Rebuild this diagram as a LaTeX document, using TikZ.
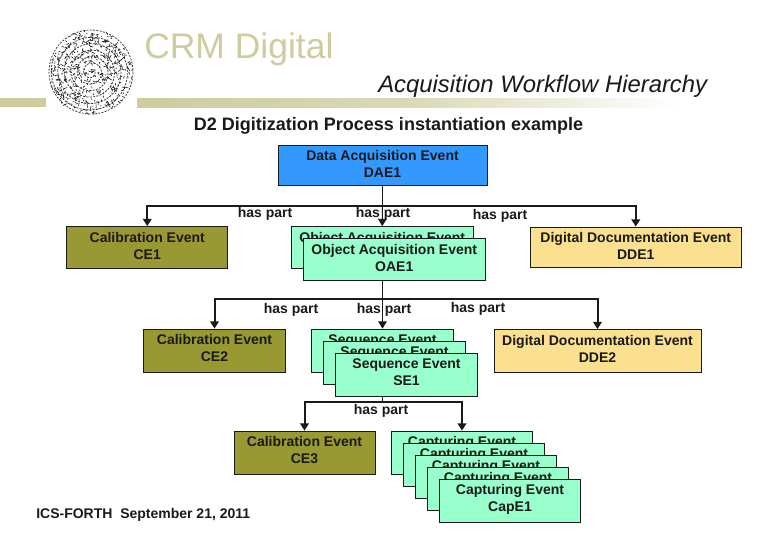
\documentclass[tikz,border=0pt]{standalone}
\usepackage{fontspec}
\setmainfont{Liberation Sans}
\usetikzlibrary{arrows.meta}
\definecolor{olivebox}{HTML}{999933}
\definecolor{mintbox}{HTML}{99FFCC}
\definecolor{sandbox}{HTML}{FBE08F}
\definecolor{bluebox}{HTML}{3399FF}
\definecolor{khaki}{HTML}{CCCC9E}
\definecolor{ink}{HTML}{1A1A1A}
\newcommand\evt[3]{\parbox[c][#2pt][t]{#1pt}{\centering\vspace{4.1pt}#3}}
\tikzset{
  evbox/.style={draw=ink,line width=0.6pt,inner sep=0pt,font=\fontsize{10.5}{12.75}\selectfont\bfseries,text=ink},
  thinline/.style={draw=ink,line width=0.75pt},
  thinarrow/.style={draw=ink,line width=0.75pt,-{Triangle[length=5.5pt,width=6.5pt]}},
  busline/.style={draw=ink,line width=1.5pt,-{Triangle[length=5.5pt,width=6.5pt]}},
  partlabel/.style={font=\fontsize{10.5}{12}\selectfont\bfseries,text=ink,inner sep=0pt},
}
\begin{document}
\begin{tikzpicture}[x=0.75pt,y=-0.75pt]
\useasboundingbox (0,0) rectangle (780,540);
\fill[white] (0,0) rectangle (780,540);
% header rule
\fill[khaki] (0,98) rectangle (46,107);
\shade[left color=khaki,right color=white,middle color=khaki!75!white] (137,98) rectangle (680,107);
% logo disc
\pgfmathsetseed{4711}
\draw[black!80,line width=0.55pt,dash pattern=on 1.6pt off 0.9pt,domain=0:2000,samples=400,smooth]
  plot ({91+(4+\x/2000*36)*cos(\x)},{72+(4+\x/2000*36)*sin(\x)});
\foreach \i in {1,...,480}{
  \pgfmathsetmacro{\ang}{rnd*360}
  \pgfmathsetmacro{\rad}{41*sqrt(rnd)}
  \pgfmathsetmacro{\turn}{rnd*360}
  \pgfmathsetmacro{\len}{1+rnd*2.5}
  \draw[black!90,line width=0.45pt] ({91+\rad*cos(\ang)},{72+\rad*sin(\ang)}) -- ++(\turn:\len);
}
\draw[black!75,line width=0.6pt,dash pattern=on 1.5pt off 1pt] (91,72) circle (42);
% titles
\node[anchor=base west,inner sep=0pt,text=khaki,font=\fontsize{26.6}{30}\selectfont] (title) at (144,58) {CRM Digital};
\node[anchor=base west,inner sep=0pt,text=ink,font=\fontsize{17.9}{20}\selectfont\itshape] (subtitle) at (378,92) {Acquisition Workflow Hierarchy};
\node[anchor=base,inner sep=0pt,text=ink,font=\fontsize{13.5}{16}\selectfont\bfseries] (heading) at (388.5,130) {D2 Digitization Process instantiation example};
\node[anchor=base west,inner sep=0pt,text=ink,font=\fontsize{10.5}{12}\selectfont\bfseries] (footer) at (36,518) {ICS-FORTH\ \ September 21, 2011};
% top box
\node[evbox,fill=bluebox] (dae) at (382.5,165) {\evt{156.75}{30}{Data Acquisition Event\\DAE1}};
% level 1
\node[evbox,fill=olivebox] (ce1) at (147.25,247.25) {\evt{120.75}{31.1}{Calibration Event\\CE1}};
\node[evbox,fill=mintbox] (oaeb) at (382.25,247.25) {\evt{136}{31.1}{Object Acquisition Event\\OAE1}};
\node[evbox,fill=mintbox] (oaef) at (394.25,259.25) {\evt{136}{31.1}{Object Acquisition Event\\OAE1}};
\node[evbox,fill=sandbox] (dde1) at (635.75,247) {\evt{158.6}{30}{Digital Documentation Event\\DDE1}};
% level 2
\node[evbox,fill=olivebox] (ce2) at (214.5,350.5) {\evt{106.5}{32.25}{Calibration Event\\CE2}};
\node[evbox,fill=mintbox] (seb) at (382.5,350.5) {\evt{106.5}{32.25}{Sequence Event\\SE1}};
\node[evbox,fill=mintbox] (sem) at (394.5,362.5) {\evt{106.5}{32.25}{Sequence Event\\SE1}};
\node[evbox,fill=mintbox] (sef) at (406.5,374.5) {\evt{106.5}{32.25}{Sequence Event\\SE1}};
\node[evbox,fill=sandbox] (dde2) at (597.5,350.75) {\evt{155.25}{31.9}{Digital Documentation Event\\DDE2}};
% level 3
\node[evbox,fill=olivebox] (ce3) at (304.5,452.5) {\evt{105.75}{32.25}{Calibration Event\\CE3}};
\node[evbox,fill=mintbox] (capa) at (462,452.5) {\evt{105.75}{32.25}{Capturing Event\\CapE1}};
\node[evbox,fill=mintbox] (capb) at (474,464.5) {\evt{105.75}{32.25}{Capturing Event\\CapE1}};
\node[evbox,fill=mintbox] (capc) at (486,476.5) {\evt{105.75}{32.25}{Capturing Event\\CapE1}};
\node[evbox,fill=mintbox] (capd) at (498,488.5) {\evt{105.75}{32.25}{Capturing Event\\CapE1}};
\node[evbox,fill=mintbox] (cape) at (510,500.5) {\evt{105.75}{32.25}{Capturing Event\\CapE1}};
% bus junctions
\coordinate (j1) at (382.5,205.5);
\coordinate (j2) at (382.5,299);
\coordinate (j3) at (382.5,402);
% level 1 connectors
\draw[thinline] (dae.south) -- (j1);
\draw[busline] (j1) -| (ce1.north);
\draw[busline] (j1) -| (dde1.north);
\draw[thinarrow] (j1) -- (oaeb.north);
% level 2 connectors
\draw[thinline] (oaef.south -| j2) -- (j2);
\draw[busline] (j2) -| (ce2.north);
\draw[busline] (j2) -| (dde2.north);
\draw[thinarrow] (j2) -- (seb.north);
% level 3 connectors
\draw[thinline] (sef.south -| j3) -- (j3);
\draw[busline] (j3) -| (ce3.north);
\draw[busline] (j3) -| (capa.north);
% labels
\node[partlabel] (hp1) at (265,214) {has part};
\node[partlabel] (hp2) at (383,214) {has part};
\node[partlabel] (hp3) at (500,215.5) {has part};
\node[partlabel] (hp4) at (291,309.5) {has part};
\node[partlabel] (hp5) at (384,309.5) {has part};
\node[partlabel] (hp6) at (478,308.5) {has part};
\node[partlabel] (hp7) at (381,410.5) {has part};
\end{tikzpicture}
\end{document}
